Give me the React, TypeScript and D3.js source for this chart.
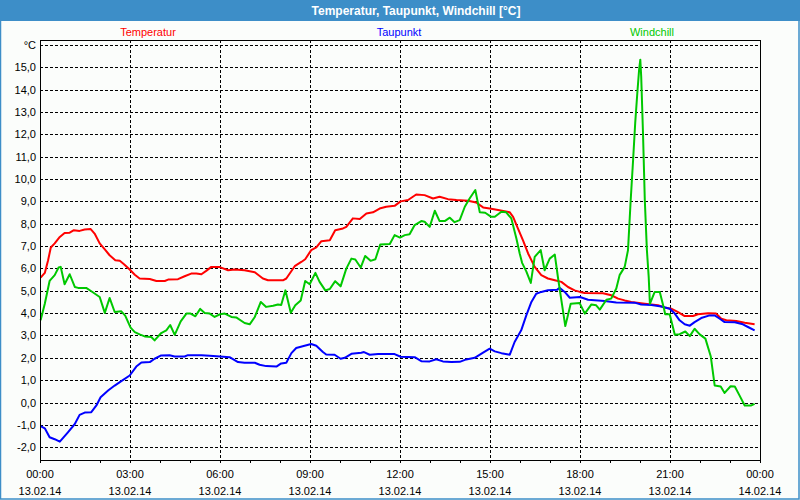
import React from 'react';
import * as d3 from 'd3';

const chartTitle = 'Temperatur, Taupunkt, Windchill [°C]';
const legendNames = ['Temperatur', 'Taupunkt', 'Windchill'];
const unitLabel = '°C';

const tempHours = [0.02, 0.16, 0.27, 0.36, 0.49, 0.66, 0.82, 0.99, 1.13, 1.32, 1.49, 1.69, 1.82, 1.99, 2.16, 2.32, 2.51, 2.66, 2.8, 2.99, 3.16, 3.32, 3.66, 3.88, 4.16, 4.27, 4.6, 4.82, 5.04, 5.21, 5.38, 5.54, 5.71, 5.99, 6.27, 6.49, 6.82, 7.16, 7.43, 7.6, 8.1, 8.21, 8.49, 8.71, 8.84, 9.04, 9.21, 9.38, 9.66, 9.84, 10.1, 10.21, 10.43, 10.66, 10.88, 11.1, 11.32, 11.54, 11.82, 12.02, 12.27, 12.54, 12.82, 13.1, 13.32, 13.6, 13.88, 14.27, 14.54, 14.77, 14.99, 15.27, 15.66, 15.77, 15.93, 16.1, 16.27, 16.49, 16.71, 16.93, 17.16, 17.38, 17.6, 17.82, 18.0, 18.16, 18.77, 19.04, 19.27, 19.49, 19.71, 20.16, 20.6, 20.82, 21.04, 21.27, 21.49, 21.77, 21.93, 22.27, 22.54, 22.71, 22.88, 23.21, 23.49, 23.82];
const tempValues = [5.59, 5.8, 6.37, 6.94, 7.12, 7.41, 7.59, 7.6, 7.71, 7.68, 7.74, 7.76, 7.56, 7.12, 6.85, 6.59, 6.37, 6.34, 6.19, 5.95, 5.72, 5.55, 5.53, 5.44, 5.44, 5.5, 5.52, 5.65, 5.77, 5.77, 5.74, 5.89, 6.07, 6.06, 5.92, 5.95, 5.92, 5.83, 5.55, 5.47, 5.47, 5.55, 6.1, 6.29, 6.41, 6.82, 6.94, 7.22, 7.26, 7.71, 7.79, 7.86, 8.24, 8.21, 8.46, 8.51, 8.68, 8.76, 8.8, 9.0, 9.06, 9.31, 9.28, 9.13, 9.21, 9.1, 9.06, 9.03, 8.95, 8.73, 8.68, 8.61, 8.51, 8.31, 7.79, 7.26, 6.67, 6.07, 5.7, 5.55, 5.47, 5.4, 5.17, 5.02, 4.95, 4.9, 4.89, 4.8, 4.65, 4.57, 4.5, 4.42, 4.35, 4.25, 4.2, 4.05, 3.87, 3.87, 3.95, 3.99, 3.98, 3.75, 3.68, 3.65, 3.57, 3.5];

const dewHours = [0.02, 0.16, 0.32, 0.49, 0.66, 0.77, 0.93, 1.16, 1.32, 1.49, 1.71, 1.88, 2.02, 2.27, 2.49, 2.71, 2.99, 3.21, 3.38, 3.66, 3.82, 4.04, 4.32, 4.49, 4.82, 4.93, 5.38, 5.66, 6.0, 6.32, 6.6, 6.82, 7.16, 7.32, 7.54, 7.88, 8.04, 8.21, 8.38, 8.54, 8.82, 9.04, 9.21, 9.43, 9.54, 9.82, 10.02, 10.16, 10.38, 10.71, 10.8, 10.99, 11.27, 11.82, 12.02, 12.49, 12.71, 12.99, 13.21, 13.43, 13.71, 13.99, 14.21, 14.49, 14.77, 14.99, 15.16, 15.38, 15.66, 15.82, 16.04, 16.21, 16.38, 16.54, 16.71, 16.93, 17.24, 17.32, 17.49, 17.66, 18.0, 18.27, 18.82, 19.21, 19.82, 20.04, 20.38, 20.71, 20.99, 21.16, 21.32, 21.49, 21.66, 21.82, 22.04, 22.32, 22.49, 22.66, 22.82, 23.16, 23.43, 23.6, 23.82];
const dewValues = [-1.05, -1.15, -1.55, -1.64, -1.75, -1.58, -1.33, -0.96, -0.55, -0.45, -0.43, -0.13, 0.24, 0.54, 0.76, 0.96, 1.21, 1.61, 1.79, 1.81, 1.96, 2.11, 2.12, 2.06, 2.06, 2.12, 2.12, 2.09, 2.06, 2.03, 1.81, 1.78, 1.78, 1.69, 1.63, 1.61, 1.75, 1.78, 2.21, 2.44, 2.54, 2.62, 2.54, 2.26, 2.15, 2.14, 1.96, 2.0, 2.18, 2.23, 2.26, 2.14, 2.17, 2.17, 2.05, 2.03, 1.85, 1.84, 1.94, 1.84, 1.81, 1.82, 1.93, 2.0, 2.23, 2.41, 2.29, 2.21, 2.14, 2.71, 3.23, 3.9, 4.5, 4.87, 4.95, 5.02, 5.05, 5.13, 4.95, 4.69, 4.72, 4.6, 4.54, 4.48, 4.47, 4.39, 4.36, 4.3, 4.2, 3.98, 3.68, 3.5, 3.44, 3.6, 3.78, 3.9, 3.9, 3.75, 3.6, 3.59, 3.5, 3.38, 3.23];

const chillHours = [0.02, 0.16, 0.32, 0.49, 0.62, 0.69, 0.82, 0.99, 1.16, 1.27, 1.54, 1.71, 1.99, 2.16, 2.32, 2.49, 2.71, 2.84, 3.02, 3.16, 3.32, 3.49, 3.71, 3.82, 4.04, 4.21, 4.34, 4.49, 4.69, 4.88, 5.02, 5.18, 5.34, 5.49, 5.66, 5.82, 6.0, 6.16, 6.38, 6.54, 6.82, 6.99, 7.16, 7.36, 7.54, 7.77, 7.93, 8.04, 8.18, 8.36, 8.51, 8.69, 8.84, 8.99, 9.18, 9.32, 9.51, 9.66, 9.84, 10.02, 10.21, 10.38, 10.51, 10.69, 10.84, 11.02, 11.18, 11.34, 11.66, 11.82, 12.0, 12.16, 12.32, 12.49, 12.71, 12.82, 12.99, 13.16, 13.32, 13.49, 13.66, 13.82, 13.99, 14.16, 14.32, 14.51, 14.66, 14.84, 15.04, 15.16, 15.38, 15.54, 15.71, 15.88, 15.99, 16.07, 16.21, 16.36, 16.49, 16.69, 16.82, 16.99, 17.16, 17.27, 17.38, 17.51, 17.69, 17.99, 18.16, 18.38, 18.54, 18.66, 18.88, 19.04, 19.21, 19.32, 19.49, 19.6, 19.69, 19.77, 19.84, 19.91, 19.97, 20.01, 20.04, 20.1, 20.16, 20.23, 20.29, 20.33, 20.49, 20.66, 20.8, 20.84, 20.99, 21.16, 21.32, 21.51, 21.66, 21.82, 21.99, 22.18, 22.36, 22.49, 22.69, 22.82, 23.02, 23.16, 23.32, 23.49, 23.71, 23.82];
const chillValues = [3.68, 4.42, 5.44, 5.7, 6.04, 6.07, 5.29, 5.74, 5.17, 5.13, 5.13, 4.98, 4.72, 4.01, 4.68, 4.05, 4.08, 3.89, 3.35, 3.15, 3.05, 2.96, 2.93, 2.78, 3.11, 3.23, 3.47, 3.03, 3.63, 3.98, 3.98, 3.86, 4.19, 4.01, 3.98, 3.83, 3.95, 3.98, 3.83, 3.81, 3.56, 3.5, 3.83, 4.5, 4.28, 4.33, 4.39, 4.36, 5.02, 4.02, 4.35, 4.57, 5.44, 5.29, 5.8, 5.4, 5.02, 5.08, 5.43, 5.2, 5.99, 6.44, 6.4, 6.04, 6.56, 6.34, 6.41, 7.07, 7.09, 7.49, 7.38, 7.49, 7.53, 7.94, 8.12, 8.09, 7.86, 8.58, 8.12, 8.12, 8.27, 8.07, 8.16, 8.76, 9.13, 9.51, 8.51, 8.49, 8.31, 8.31, 8.54, 8.51, 8.24, 7.34, 6.67, 6.25, 5.87, 5.35, 6.52, 6.82, 5.92, 6.44, 6.62, 5.55, 4.57, 3.42, 4.42, 4.45, 3.98, 4.39, 4.35, 4.16, 4.6, 4.65, 5.1, 5.7, 6.07, 6.82, 9.06, 10.85, 12.5, 13.84, 14.89, 15.34, 14.59, 12.05, 9.06, 6.82, 5.62, 4.42, 4.95, 4.95, 4.2, 3.95, 3.95, 3.03, 3.06, 3.18, 2.97, 3.3, 3.05, 2.86, 2.06, 0.76, 0.72, 0.43, 0.73, 0.72, 0.31, -0.13, -0.13, -0.06];

const yTickValues = [-2, -1, 0, 1, 2, 3, 4, 5, 6, 7, 8, 9, 10, 11, 12, 13, 14, 15];
const unitTickValue = 16;
const xMajorHours = [0, 3, 6, 9, 12, 15, 18, 21, 24];
const xMinorHours = [1, 2, 4, 5, 7, 8, 10, 11, 13, 14, 16, 17, 19, 20, 22, 23];
const xTimeLabels = ['00:00', '03:00', '06:00', '09:00', '12:00', '15:00', '18:00', '21:00', '00:00'];
const xDateLabels = ['13.02.14', '13.02.14', '13.02.14', '13.02.14', '13.02.14', '13.02.14', '13.02.14', '13.02.14', '14.02.14'];

const W = 800;
const H = 500;
const PL = 40, PR = 760, PT = 40, PB = 460;
const FONT = '"Liberation Sans", Arial, sans-serif';
const COLORS = ['#ff0000', '#0000ff', '#00c800'];
const FRAME = '#3d8ec8';

export default function App() {
  const x = d3.scaleLinear().domain([0, 24]).range([PL, PR]);
  const y = d3.scaleLinear().domain([-2.57, 16.22]).range([PB, PT]);
  const fmt = (v: number) => d3.format('.1f')(v).replace('.', ',').replace('−', '-');

  const series = [
    { h: tempHours, v: tempValues },
    { h: dewHours, v: dewValues },
    { h: chillHours, v: chillValues },
  ];
  const line = d3
    .line<[number, number]>()
    .x((d) => x(d[0]))
    .y((d) => y(d[1]));

  const crisp = (p: number) => Math.round(p) + 0.5;
  const legendX = [148, 399, 652];

  return (
    <svg
      width={W}
      height={H}
      style={{ position: 'absolute', left: 0, top: 0, display: 'block' }}
      fontFamily={FONT}
    >
      <rect x={0} y={0} width={W} height={H} fill="#fbfdfb" />
      <rect x={0.5} y={0.5} width={W - 1.5} height={H - 1.5} fill="none" stroke={FRAME} strokeWidth={1.5} />
      <rect x={0} y={0} width={W} height={21} fill={FRAME} />
      <text x={416} y={15} textAnchor="middle" fill="#ffffff" fontWeight="bold" fontSize={12}>
        {chartTitle}
      </text>
      {legendNames.map((n, i) => (
        <text key={n} x={legendX[i]} y={36} textAnchor="middle" fill={COLORS[i]} fontSize={11}>
          {n}
        </text>
      ))}

      {/* horizontal grid */}
      {[...yTickValues, unitTickValue].map((v) => (
        <line
          key={'hg' + v}
          x1={PL}
          x2={PR}
          y1={crisp(y(v))}
          y2={crisp(y(v))}
          stroke="#000"
          strokeDasharray="3,2"
          shapeRendering="crispEdges"
        />
      ))}
      {/* vertical grid */}
      {xMajorHours.slice(1, -1).map((h) => (
        <line
          key={'vg' + h}
          x1={crisp(x(h))}
          x2={crisp(x(h))}
          y1={PT}
          y2={PB}
          stroke="#000"
          strokeDasharray="3,2"
          shapeRendering="crispEdges"
        />
      ))}

      {/* lines */}
      {series.map((s, i) => (
        <path
          key={'s' + i}
          d={line(s.h.map((h, k) => [h, s.v[k]] as [number, number])) || ''}
          fill="none"
          stroke={COLORS[i]}
          strokeWidth={2}
          strokeLinejoin="round"
        />
      ))}

      {/* frame */}
      <rect x={PL + 0.5} y={PT + 0.5} width={PR - PL} height={PB - PT} fill="none" stroke="#000" strokeWidth={1} shapeRendering="crispEdges" />

      {/* y labels */}
      {yTickValues.map((v) => (
        <text key={'yl' + v} x={36} y={y(v) + 4} textAnchor="end" fontSize={11} fill="#000">
          {fmt(v)}
        </text>
      ))}
      <text x={36} y={y(unitTickValue) + 4} textAnchor="end" fontSize={11} fill="#000">
        {unitLabel}
      </text>

      {/* x ticks */}
      {[...xMajorHours, ...xMinorHours].map((h) => (
        <line
          key={'xt' + h}
          x1={crisp(x(h))}
          x2={crisp(x(h))}
          y1={PB}
          y2={PB + 3}
          stroke="#000"
          shapeRendering="crispEdges"
        />
      ))}
      {xMajorHours.map((h, i) => (
        <g key={'xl' + i}>
          <text x={x(h)} y={478} textAnchor="middle" fontSize={11} fill="#000">
            {xTimeLabels[i]}
          </text>
          <text x={x(h)} y={495} textAnchor="middle" fontSize={11} fill="#000">
            {xDateLabels[i]}
          </text>
        </g>
      ))}
    </svg>
  );
}
